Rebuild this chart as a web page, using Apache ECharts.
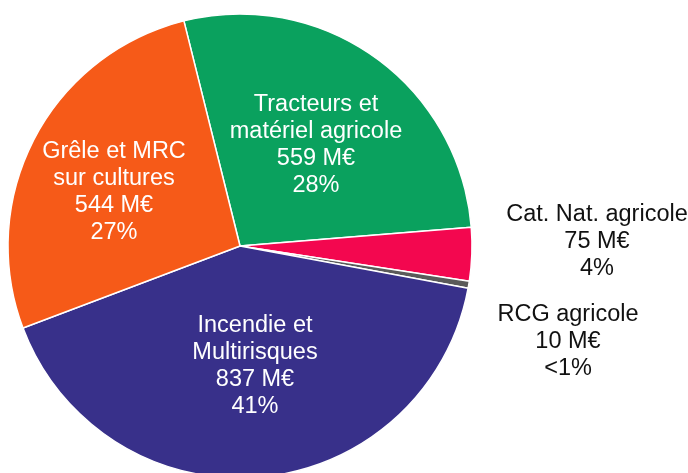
<!DOCTYPE html>
<html>
<head>
<meta charset="utf-8">
<script src="https://cdn.jsdelivr.net/npm/echarts@6/dist/echarts.min.js"></script>
<style>
  html, body { margin: 0; padding: 0; background: #fff; }
  #chart { width: 688px; height: 473px; }
</style>
</head>
<body>
<div id="chart"></div>
<script>
const names = ["Tracteurs et\nmatériel agricole", "Cat. Nat. agricole", "RCG agricole", "Incendie et\nMultirisques", "Grêle et MRC\nsur cultures"];
const values = [559, 75, 10, 837, 544];
const shares = ["28%", "4%", "<1%", "41%", "27%"];
const colors = ["#0aa15e", "#f3074f", "#5a5a5a", "#38308a", "#f65a18"];
const insideLabel = [true, false, false, true, true];
// label centres (px)
const labelPos = [[316, 145], [597, 242], [568, 342], [255, 366], [114, 192]];

const chart = echarts.init(document.getElementById("chart"));
chart.setOption({
  animation: false,
  series: [{
    type: "pie",
    center: [240, 246],
    radius: 232,
    startAngle: 104,
    clockwise: true,
    data: names.map((n, i) => ({
      name: n, value: values[i],
      itemStyle: { color: colors[i] },
      label: { color: insideLabel[i] ? "#ffffff" : "#111111" }
    })),
    itemStyle: { borderColor: "#fff", borderWidth: 1.5 },
    label: {
      show: true,
      position: "inside",
      formatter: (p) => p.name + "\n" + p.value + " M€\n" + shares[p.dataIndex],
      fontFamily: "Liberation Sans, Arial, sans-serif",
      fontSize: 23.5,
      lineHeight: 27,
      align: "center"
    },
    labelLine: { show: false },
    labelLayout: (p) => ({
      x: labelPos[p.dataIndex][0],
      y: labelPos[p.dataIndex][1],
      align: "center",
      verticalAlign: "middle"
    }),
    emphasis: { disabled: true }
  }]
});
</script>
</body>
</html>
